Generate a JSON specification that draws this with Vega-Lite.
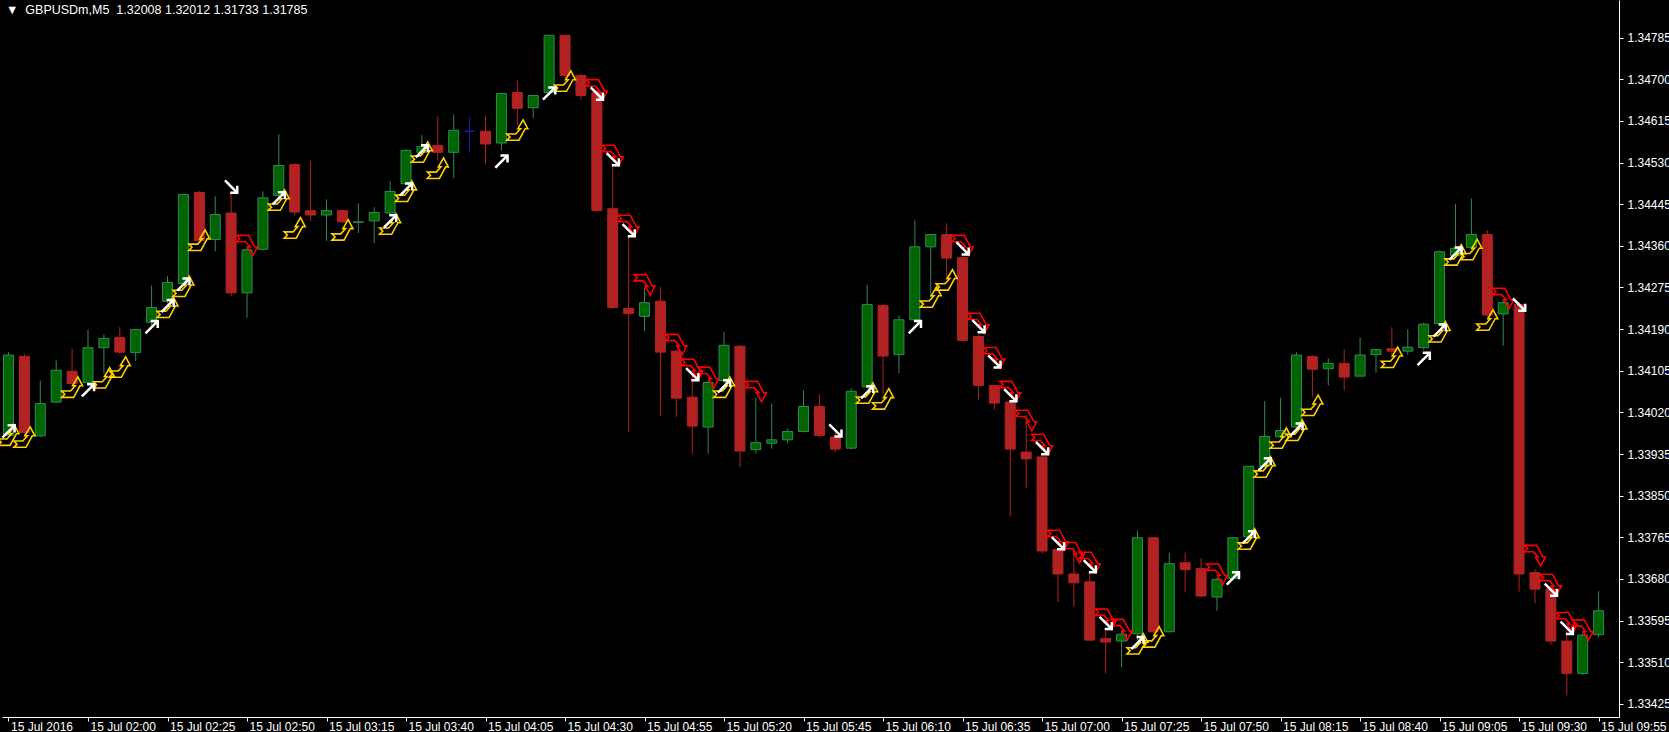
{
  "$schema": "https://vega.github.io/schema/vega-lite/v6.json",
  "width": 1617,
  "height": 717,
  "autosize": "none",
  "padding": {"left": 2, "top": 0, "right": 50, "bottom": 15},
  "background": "black",
  "config": {
    "view": {"stroke": null},
    "axisY": {
      "orient": "right", "grid": false,
      "format": ".5f", "domainColor": "white", "tickColor": "white", "tickSize": 4,
      "labelColor": "white", "labelFont": "Liberation Sans", "labelFontSize": 12, "labelPadding": 4,
      "labelOverlap": false, "labelFlush": false, "title": null
    }
  },
  "title": {
    "text": "▼\u00a0\u00a0GBPUSDm,M5\u00a0\u00a01.32008 1.32012 1.31733 1.31785",
    "anchor": "start", "frame": "group", "offset": -16, "dx": 4,
    "color": "white", "font": "Liberation Sans", "fontSize": 12.5, "fontWeight": "normal"
  },
  "datasets": {
    "candles": [
      {"t":"2016-07-15T01:35:00Z","o":1.33973,"h":1.34143,"l":1.33969,"c":1.34137},
      {"t":"2016-07-15T01:40:00Z","o":1.34134,"h":1.34139,"l":1.33971,"c":1.33979},
      {"t":"2016-07-15T01:45:00Z","o":1.33972,"h":1.34085,"l":1.33969,"c":1.34038},
      {"t":"2016-07-15T01:50:00Z","o":1.34041,"h":1.34126,"l":1.34040,"c":1.34106},
      {"t":"2016-07-15T01:55:00Z","o":1.34104,"h":1.34150,"l":1.34075,"c":1.34079},
      {"t":"2016-07-15T02:00:00Z","o":1.34081,"h":1.34189,"l":1.34079,"c":1.34152},
      {"t":"2016-07-15T02:05:00Z","o":1.34152,"h":1.34179,"l":1.34100,"c":1.34171},
      {"t":"2016-07-15T02:10:00Z","o":1.34173,"h":1.34194,"l":1.34139,"c":1.34143},
      {"t":"2016-07-15T02:15:00Z","o":1.34142,"h":1.34190,"l":1.34125,"c":1.34189},
      {"t":"2016-07-15T02:20:00Z","o":1.34204,"h":1.34279,"l":1.34198,"c":1.34234},
      {"t":"2016-07-15T02:25:00Z","o":1.34247,"h":1.34298,"l":1.34243,"c":1.34285},
      {"t":"2016-07-15T02:30:00Z","o":1.34283,"h":1.34465,"l":1.34279,"c":1.34465},
      {"t":"2016-07-15T02:35:00Z","o":1.34469,"h":1.34472,"l":1.34367,"c":1.34371},
      {"t":"2016-07-15T02:40:00Z","o":1.34373,"h":1.34461,"l":1.34349,"c":1.34424},
      {"t":"2016-07-15T02:45:00Z","o":1.34427,"h":1.34470,"l":1.34257,"c":1.34264},
      {"t":"2016-07-15T02:50:00Z","o":1.34264,"h":1.34357,"l":1.34213,"c":1.34352},
      {"t":"2016-07-15T02:55:00Z","o":1.34353,"h":1.34471,"l":1.34351,"c":1.34458},
      {"t":"2016-07-15T03:00:00Z","o":1.34463,"h":1.34588,"l":1.34459,"c":1.34524},
      {"t":"2016-07-15T03:05:00Z","o":1.34526,"h":1.34529,"l":1.34422,"c":1.34429},
      {"t":"2016-07-15T03:10:00Z","o":1.34432,"h":1.34534,"l":1.34411,"c":1.34423},
      {"t":"2016-07-15T03:15:00Z","o":1.34423,"h":1.34455,"l":1.34370,"c":1.34432},
      {"t":"2016-07-15T03:20:00Z","o":1.34432,"h":1.34434,"l":1.34406,"c":1.34409},
      {"t":"2016-07-15T03:25:00Z","o":1.34408,"h":1.34447,"l":1.34386,"c":1.34409},
      {"t":"2016-07-15T03:30:00Z","o":1.34411,"h":1.34439,"l":1.34366,"c":1.34428},
      {"t":"2016-07-15T03:35:00Z","o":1.34427,"h":1.34492,"l":1.34422,"c":1.34471},
      {"t":"2016-07-15T03:40:00Z","o":1.34487,"h":1.34557,"l":1.34483,"c":1.34555},
      {"t":"2016-07-15T03:45:00Z","o":1.34551,"h":1.34586,"l":1.34545,"c":1.34563},
      {"t":"2016-07-15T03:50:00Z","o":1.34565,"h":1.34624,"l":1.34534,"c":1.34551},
      {"t":"2016-07-15T03:55:00Z","o":1.34551,"h":1.34628,"l":1.34498,"c":1.34596},
      {"t":"2016-07-15T04:00:00Z","o":1.34594,"h":1.34624,"l":1.34551,"c":1.34594},
      {"t":"2016-07-15T04:05:00Z","o":1.34594,"h":1.34626,"l":1.34526,"c":1.34568},
      {"t":"2016-07-15T04:10:00Z","o":1.34570,"h":1.34671,"l":1.34555,"c":1.34671},
      {"t":"2016-07-15T04:15:00Z","o":1.34673,"h":1.34698,"l":1.34606,"c":1.34641},
      {"t":"2016-07-15T04:20:00Z","o":1.34642,"h":1.34667,"l":1.34621,"c":1.34667},
      {"t":"2016-07-15T04:25:00Z","o":1.34673,"h":1.34790,"l":1.34667,"c":1.34790},
      {"t":"2016-07-15T04:30:00Z","o":1.34790,"h":1.34790,"l":1.34702,"c":1.34708},
      {"t":"2016-07-15T04:35:00Z","o":1.34708,"h":1.34710,"l":1.34659,"c":1.34667},
      {"t":"2016-07-15T04:40:00Z","o":1.34673,"h":1.34677,"l":1.34430,"c":1.34432},
      {"t":"2016-07-15T04:45:00Z","o":1.34436,"h":1.34524,"l":1.34231,"c":1.34234},
      {"t":"2016-07-15T04:50:00Z","o":1.34232,"h":1.34378,"l":1.33980,"c":1.34222},
      {"t":"2016-07-15T04:55:00Z","o":1.34216,"h":1.34275,"l":1.34186,"c":1.34244},
      {"t":"2016-07-15T05:00:00Z","o":1.34247,"h":1.34276,"l":1.34013,"c":1.34143},
      {"t":"2016-07-15T05:05:00Z","o":1.34145,"h":1.34147,"l":1.34011,"c":1.34049},
      {"t":"2016-07-15T05:10:00Z","o":1.34051,"h":1.34096,"l":1.33936,"c":1.33992},
      {"t":"2016-07-15T05:15:00Z","o":1.33990,"h":1.34085,"l":1.33936,"c":1.34081},
      {"t":"2016-07-15T05:20:00Z","o":1.34085,"h":1.34184,"l":1.34081,"c":1.34157},
      {"t":"2016-07-15T05:25:00Z","o":1.34155,"h":1.34157,"l":1.33908,"c":1.33941},
      {"t":"2016-07-15T05:30:00Z","o":1.33944,"h":1.34051,"l":1.33936,"c":1.33958},
      {"t":"2016-07-15T05:35:00Z","o":1.33957,"h":1.34038,"l":1.33946,"c":1.33964},
      {"t":"2016-07-15T05:40:00Z","o":1.33964,"h":1.33987,"l":1.33957,"c":1.33981},
      {"t":"2016-07-15T05:45:00Z","o":1.33981,"h":1.34065,"l":1.33979,"c":1.34032},
      {"t":"2016-07-15T05:50:00Z","o":1.34032,"h":1.34057,"l":1.33969,"c":1.33973},
      {"t":"2016-07-15T05:55:00Z","o":1.33970,"h":1.33979,"l":1.33939,"c":1.33945},
      {"t":"2016-07-15T06:00:00Z","o":1.33947,"h":1.34069,"l":1.33944,"c":1.34063},
      {"t":"2016-07-15T06:05:00Z","o":1.34072,"h":1.34281,"l":1.34069,"c":1.34240},
      {"t":"2016-07-15T06:10:00Z","o":1.34238,"h":1.34241,"l":1.34058,"c":1.34135},
      {"t":"2016-07-15T06:15:00Z","o":1.34138,"h":1.34218,"l":1.34100,"c":1.34209},
      {"t":"2016-07-15T06:20:00Z","o":1.34209,"h":1.34412,"l":1.34208,"c":1.34358},
      {"t":"2016-07-15T06:25:00Z","o":1.34358,"h":1.34383,"l":1.34255,"c":1.34383},
      {"t":"2016-07-15T06:30:00Z","o":1.34383,"h":1.34406,"l":1.34290,"c":1.34335},
      {"t":"2016-07-15T06:35:00Z","o":1.34336,"h":1.34338,"l":1.34165,"c":1.34167},
      {"t":"2016-07-15T06:40:00Z","o":1.34175,"h":1.34177,"l":1.34045,"c":1.34075},
      {"t":"2016-07-15T06:45:00Z","o":1.34075,"h":1.34077,"l":1.34026,"c":1.34039},
      {"t":"2016-07-15T06:50:00Z","o":1.34041,"h":1.34045,"l":1.33808,"c":1.33945},
      {"t":"2016-07-15T06:55:00Z","o":1.33939,"h":1.34014,"l":1.33866,"c":1.33925},
      {"t":"2016-07-15T07:00:00Z","o":1.33929,"h":1.33932,"l":1.33732,"c":1.33737},
      {"t":"2016-07-15T07:05:00Z","o":1.33740,"h":1.33743,"l":1.33633,"c":1.33690},
      {"t":"2016-07-15T07:10:00Z","o":1.33690,"h":1.33745,"l":1.33623,"c":1.33672},
      {"t":"2016-07-15T07:15:00Z","o":1.33674,"h":1.33694,"l":1.33553,"c":1.33555},
      {"t":"2016-07-15T07:20:00Z","o":1.33558,"h":1.33575,"l":1.33487,"c":1.33551},
      {"t":"2016-07-15T07:25:00Z","o":1.33553,"h":1.33575,"l":1.33500,"c":1.33567},
      {"t":"2016-07-15T07:30:00Z","o":1.33568,"h":1.33779,"l":1.33555,"c":1.33764},
      {"t":"2016-07-15T07:35:00Z","o":1.33764,"h":1.33765,"l":1.33569,"c":1.33572},
      {"t":"2016-07-15T07:40:00Z","o":1.33572,"h":1.33733,"l":1.33571,"c":1.33711},
      {"t":"2016-07-15T07:45:00Z","o":1.33713,"h":1.33734,"l":1.33653,"c":1.33699},
      {"t":"2016-07-15T07:50:00Z","o":1.33701,"h":1.33722,"l":1.33643,"c":1.33645},
      {"t":"2016-07-15T07:55:00Z","o":1.33643,"h":1.33683,"l":1.33615,"c":1.33679},
      {"t":"2016-07-15T08:00:00Z","o":1.33681,"h":1.33765,"l":1.33679,"c":1.33764},
      {"t":"2016-07-15T08:05:00Z","o":1.33766,"h":1.33910,"l":1.33765,"c":1.33910},
      {"t":"2016-07-15T08:10:00Z","o":1.33910,"h":1.34043,"l":1.33908,"c":1.33971},
      {"t":"2016-07-15T08:15:00Z","o":1.33970,"h":1.34050,"l":1.33969,"c":1.33983},
      {"t":"2016-07-15T08:20:00Z","o":1.33990,"h":1.34143,"l":1.33983,"c":1.34137},
      {"t":"2016-07-15T08:25:00Z","o":1.34134,"h":1.34137,"l":1.34051,"c":1.34108},
      {"t":"2016-07-15T08:30:00Z","o":1.34109,"h":1.34130,"l":1.34075,"c":1.34120},
      {"t":"2016-07-15T08:35:00Z","o":1.34120,"h":1.34149,"l":1.34065,"c":1.34092},
      {"t":"2016-07-15T08:40:00Z","o":1.34094,"h":1.34173,"l":1.34094,"c":1.34137},
      {"t":"2016-07-15T08:45:00Z","o":1.34138,"h":1.34149,"l":1.34101,"c":1.34148},
      {"t":"2016-07-15T08:50:00Z","o":1.34150,"h":1.34194,"l":1.34135,"c":1.34145},
      {"t":"2016-07-15T08:55:00Z","o":1.34145,"h":1.34190,"l":1.34138,"c":1.34153},
      {"t":"2016-07-15T09:00:00Z","o":1.34152,"h":1.34203,"l":1.34148,"c":1.34200},
      {"t":"2016-07-15T09:05:00Z","o":1.34201,"h":1.34350,"l":1.34198,"c":1.34348},
      {"t":"2016-07-15T09:10:00Z","o":1.34340,"h":1.34445,"l":1.34335,"c":1.34355},
      {"t":"2016-07-15T09:15:00Z","o":1.34357,"h":1.34457,"l":1.34350,"c":1.34383},
      {"t":"2016-07-15T09:20:00Z","o":1.34383,"h":1.34392,"l":1.34215,"c":1.34219},
      {"t":"2016-07-15T09:25:00Z","o":1.34221,"h":1.34250,"l":1.34156,"c":1.34244},
      {"t":"2016-07-15T09:30:00Z","o":1.34240,"h":1.34245,"l":1.33654,"c":1.33690},
      {"t":"2016-07-15T09:35:00Z","o":1.33693,"h":1.33700,"l":1.33630,"c":1.33659},
      {"t":"2016-07-15T09:40:00Z","o":1.33659,"h":1.33665,"l":1.33546,"c":1.33553},
      {"t":"2016-07-15T09:45:00Z","o":1.33553,"h":1.33575,"l":1.33442,"c":1.33487},
      {"t":"2016-07-15T09:50:00Z","o":1.33487,"h":1.33570,"l":1.33484,"c":1.33565},
      {"t":"2016-07-15T09:55:00Z","o":1.33566,"h":1.33655,"l":1.33560,"c":1.33615}
    ],
    "arrows": [
      {"t":"2016-07-15T01:35:00Z","p":1.33981,"s":"wu"},
      {"t":"2016-07-15T02:00:00Z","p":1.34065,"s":"wu"},
      {"t":"2016-07-15T02:20:00Z","p":1.34194,"s":"wu"},
      {"t":"2016-07-15T02:25:00Z","p":1.34237,"s":"wu"},
      {"t":"2016-07-15T02:30:00Z","p":1.34281,"s":"wu"},
      {"t":"2016-07-15T03:00:00Z","p":1.34457,"s":"wu"},
      {"t":"2016-07-15T03:35:00Z","p":1.34410,"s":"wu"},
      {"t":"2016-07-15T03:40:00Z","p":1.34475,"s":"wu"},
      {"t":"2016-07-15T03:45:00Z","p":1.34553,"s":"wu"},
      {"t":"2016-07-15T04:10:00Z","p":1.34532,"s":"wu"},
      {"t":"2016-07-15T04:25:00Z","p":1.34671,"s":"wu"},
      {"t":"2016-07-15T05:20:00Z","p":1.34073,"s":"wu"},
      {"t":"2016-07-15T06:05:00Z","p":1.34061,"s":"wu"},
      {"t":"2016-07-15T06:20:00Z","p":1.34194,"s":"wu"},
      {"t":"2016-07-15T07:30:00Z","p":1.33549,"s":"wu"},
      {"t":"2016-07-15T08:00:00Z","p":1.33681,"s":"wu"},
      {"t":"2016-07-15T08:05:00Z","p":1.33765,"s":"wu"},
      {"t":"2016-07-15T08:10:00Z","p":1.33914,"s":"wu"},
      {"t":"2016-07-15T08:20:00Z","p":1.33985,"s":"wu"},
      {"t":"2016-07-15T09:00:00Z","p":1.34129,"s":"wu"},
      {"t":"2016-07-15T09:05:00Z","p":1.34187,"s":"wu"},
      {"t":"2016-07-15T09:10:00Z","p":1.34344,"s":"wu"},
      {"t":"2016-07-15T02:45:00Z","p":1.34481,"s":"wd"},
      {"t":"2016-07-15T04:40:00Z","p":1.34671,"s":"wd"},
      {"t":"2016-07-15T04:45:00Z","p":1.34537,"s":"wd"},
      {"t":"2016-07-15T04:50:00Z","p":1.34392,"s":"wd"},
      {"t":"2016-07-15T05:10:00Z","p":1.34098,"s":"wd"},
      {"t":"2016-07-15T05:55:00Z","p":1.33983,"s":"wd"},
      {"t":"2016-07-15T06:35:00Z","p":1.34355,"s":"wd"},
      {"t":"2016-07-15T06:40:00Z","p":1.34196,"s":"wd"},
      {"t":"2016-07-15T06:45:00Z","p":1.34124,"s":"wd"},
      {"t":"2016-07-15T06:50:00Z","p":1.34055,"s":"wd"},
      {"t":"2016-07-15T07:00:00Z","p":1.33947,"s":"wd"},
      {"t":"2016-07-15T07:05:00Z","p":1.33753,"s":"wd"},
      {"t":"2016-07-15T07:15:00Z","p":1.33706,"s":"wd"},
      {"t":"2016-07-15T07:20:00Z","p":1.33590,"s":"wd"},
      {"t":"2016-07-15T09:30:00Z","p":1.34240,"s":"wd"},
      {"t":"2016-07-15T09:40:00Z","p":1.33658,"s":"wd"},
      {"t":"2016-07-15T09:45:00Z","p":1.33580,"s":"wd"},
      {"t":"2016-07-15T01:35:00Z","p":1.33973,"s":"yu"},
      {"t":"2016-07-15T01:40:00Z","p":1.33969,"s":"yu"},
      {"t":"2016-07-15T01:55:00Z","p":1.34071,"s":"yu"},
      {"t":"2016-07-15T02:05:00Z","p":1.34090,"s":"yu"},
      {"t":"2016-07-15T02:10:00Z","p":1.34112,"s":"yu"},
      {"t":"2016-07-15T02:25:00Z","p":1.34234,"s":"yu"},
      {"t":"2016-07-15T02:30:00Z","p":1.34277,"s":"yu"},
      {"t":"2016-07-15T02:35:00Z","p":1.34371,"s":"yu"},
      {"t":"2016-07-15T03:00:00Z","p":1.34453,"s":"yu"},
      {"t":"2016-07-15T03:05:00Z","p":1.34396,"s":"yu"},
      {"t":"2016-07-15T03:20:00Z","p":1.34392,"s":"yu"},
      {"t":"2016-07-15T03:35:00Z","p":1.34404,"s":"yu"},
      {"t":"2016-07-15T03:40:00Z","p":1.34471,"s":"yu"},
      {"t":"2016-07-15T03:45:00Z","p":1.34551,"s":"yu"},
      {"t":"2016-07-15T03:50:00Z","p":1.34518,"s":"yu"},
      {"t":"2016-07-15T04:15:00Z","p":1.34596,"s":"yu"},
      {"t":"2016-07-15T04:30:00Z","p":1.34696,"s":"yu"},
      {"t":"2016-07-15T05:20:00Z","p":1.34071,"s":"yu"},
      {"t":"2016-07-15T06:05:00Z","p":1.34059,"s":"yu"},
      {"t":"2016-07-15T06:10:00Z","p":1.34047,"s":"yu"},
      {"t":"2016-07-15T06:25:00Z","p":1.34255,"s":"yu"},
      {"t":"2016-07-15T06:30:00Z","p":1.34290,"s":"yu"},
      {"t":"2016-07-15T07:30:00Z","p":1.33547,"s":"yu"},
      {"t":"2016-07-15T07:35:00Z","p":1.33561,"s":"yu"},
      {"t":"2016-07-15T08:05:00Z","p":1.33761,"s":"yu"},
      {"t":"2016-07-15T08:10:00Z","p":1.33908,"s":"yu"},
      {"t":"2016-07-15T08:15:00Z","p":1.33967,"s":"yu"},
      {"t":"2016-07-15T08:20:00Z","p":1.33983,"s":"yu"},
      {"t":"2016-07-15T08:25:00Z","p":1.34034,"s":"yu"},
      {"t":"2016-07-15T08:50:00Z","p":1.34132,"s":"yu"},
      {"t":"2016-07-15T09:05:00Z","p":1.34184,"s":"yu"},
      {"t":"2016-07-15T09:10:00Z","p":1.34341,"s":"yu"},
      {"t":"2016-07-15T09:15:00Z","p":1.34352,"s":"yu"},
      {"t":"2016-07-15T09:20:00Z","p":1.34208,"s":"yu"},
      {"t":"2016-07-15T02:50:00Z","p":1.34361,"s":"rd"},
      {"t":"2016-07-15T04:40:00Z","p":1.34679,"s":"rd"},
      {"t":"2016-07-15T04:45:00Z","p":1.34545,"s":"rd"},
      {"t":"2016-07-15T04:50:00Z","p":1.34402,"s":"rd"},
      {"t":"2016-07-15T04:55:00Z","p":1.34281,"s":"rd"},
      {"t":"2016-07-15T05:05:00Z","p":1.34159,"s":"rd"},
      {"t":"2016-07-15T05:10:00Z","p":1.34108,"s":"rd"},
      {"t":"2016-07-15T05:15:00Z","p":1.34092,"s":"rd"},
      {"t":"2016-07-15T05:30:00Z","p":1.34063,"s":"rd"},
      {"t":"2016-07-15T06:35:00Z","p":1.34361,"s":"rd"},
      {"t":"2016-07-15T06:40:00Z","p":1.34202,"s":"rd"},
      {"t":"2016-07-15T06:45:00Z","p":1.34132,"s":"rd"},
      {"t":"2016-07-15T06:50:00Z","p":1.34063,"s":"rd"},
      {"t":"2016-07-15T06:55:00Z","p":1.34004,"s":"rd"},
      {"t":"2016-07-15T07:00:00Z","p":1.33955,"s":"rd"},
      {"t":"2016-07-15T07:05:00Z","p":1.33759,"s":"rd"},
      {"t":"2016-07-15T07:10:00Z","p":1.33734,"s":"rd"},
      {"t":"2016-07-15T07:15:00Z","p":1.33714,"s":"rd"},
      {"t":"2016-07-15T07:20:00Z","p":1.33598,"s":"rd"},
      {"t":"2016-07-15T07:25:00Z","p":1.33577,"s":"rd"},
      {"t":"2016-07-15T07:55:00Z","p":1.33690,"s":"rd"},
      {"t":"2016-07-15T09:25:00Z","p":1.34253,"s":"rd"},
      {"t":"2016-07-15T09:35:00Z","p":1.33728,"s":"rd"},
      {"t":"2016-07-15T09:40:00Z","p":1.33669,"s":"rd"},
      {"t":"2016-07-15T09:45:00Z","p":1.33591,"s":"rd"},
      {"t":"2016-07-15T09:50:00Z","p":1.33576,"s":"rd"}
    ]
  },
  "encoding": {
    "x": {
      "field": "t", "type": "temporal", "title": null,
      "scale": {
        "type": "utc",
        "domain": [
          {"year": 2016, "month": 7, "date": 15, "hours": 1, "minutes": 34, "seconds": 31, "milliseconds": 875, "utc": true},
          {"year": 2016, "month": 7, "date": 15, "hours": 9, "minutes": 59, "seconds": 50, "milliseconds": 625, "utc": true}
        ]
      },
      "axis": {
        "values": [
          {"year": 2016, "month": 7, "date": 15, "hours": 1, "minutes": 35, "utc": true},
          {"year": 2016, "month": 7, "date": 15, "hours": 2, "minutes": 0, "utc": true},
          {"year": 2016, "month": 7, "date": 15, "hours": 2, "minutes": 25, "utc": true},
          {"year": 2016, "month": 7, "date": 15, "hours": 2, "minutes": 50, "utc": true},
          {"year": 2016, "month": 7, "date": 15, "hours": 3, "minutes": 15, "utc": true},
          {"year": 2016, "month": 7, "date": 15, "hours": 3, "minutes": 40, "utc": true},
          {"year": 2016, "month": 7, "date": 15, "hours": 4, "minutes": 5, "utc": true},
          {"year": 2016, "month": 7, "date": 15, "hours": 4, "minutes": 30, "utc": true},
          {"year": 2016, "month": 7, "date": 15, "hours": 4, "minutes": 55, "utc": true},
          {"year": 2016, "month": 7, "date": 15, "hours": 5, "minutes": 20, "utc": true},
          {"year": 2016, "month": 7, "date": 15, "hours": 5, "minutes": 45, "utc": true},
          {"year": 2016, "month": 7, "date": 15, "hours": 6, "minutes": 10, "utc": true},
          {"year": 2016, "month": 7, "date": 15, "hours": 6, "minutes": 35, "utc": true},
          {"year": 2016, "month": 7, "date": 15, "hours": 7, "minutes": 0, "utc": true},
          {"year": 2016, "month": 7, "date": 15, "hours": 7, "minutes": 25, "utc": true},
          {"year": 2016, "month": 7, "date": 15, "hours": 7, "minutes": 50, "utc": true},
          {"year": 2016, "month": 7, "date": 15, "hours": 8, "minutes": 15, "utc": true},
          {"year": 2016, "month": 7, "date": 15, "hours": 8, "minutes": 40, "utc": true},
          {"year": 2016, "month": 7, "date": 15, "hours": 9, "minutes": 5, "utc": true},
          {"year": 2016, "month": 7, "date": 15, "hours": 9, "minutes": 30, "utc": true},
          {"year": 2016, "month": 7, "date": 15, "hours": 9, "minutes": 55, "utc": true}
        ],
        "labelExpr": "utcFormat(datum.value, '%H:%M') == '01:35' ? '15 Jul 2016' : utcFormat(datum.value, '%d %b %H:%M')",
        "grid": false, "domainColor": "white", "tickColor": "white", "tickSize": 4,
        "labelColor": "white", "labelFont": "Liberation Sans", "labelFontSize": 12,
        "labelAlign": "left", "labelBaseline": "top", "labelPadding": 0, "labelOffset": 2,
        "labelFlush": false, "labelOverlap": false, "labelBound": false
      }
    }
  },
  "layer": [
    {
      "data": {"name": "candles"},
      "mark": {"type": "rule", "strokeWidth": 1},
      "encoding": {
        "y": {"field": "l", "type": "quantitative", "title": null, "scale": {"domain": [1.33398, 1.34862], "nice": false, "zero": false},
          "axis": {"values": [1.34785, 1.347, 1.34615, 1.3453, 1.34445, 1.3436, 1.34275, 1.3419, 1.34105, 1.3402, 1.33935, 1.3385, 1.33765, 1.3368, 1.33595, 1.3351, 1.33425]}},
        "y2": {"field": "h"},
        "stroke": {
          "condition": [
            {"test": "datum.c == datum.o", "value": "#1c1cb0"},
            {"test": "datum.c > datum.o", "value": "#2E8B57"}
          ],
          "value": "#B22222"
        }
      }
    },
    {
      "data": {"name": "candles"},
      "mark": {"type": "bar", "width": 10, "strokeWidth": 1},
      "encoding": {
        "y": {"field": "o", "type": "quantitative", "title": null, "scale": {"domain": [1.33398, 1.34862], "nice": false, "zero": false},
          "axis": {"values": [1.34785, 1.347, 1.34615, 1.3453, 1.34445, 1.3436, 1.34275, 1.3419, 1.34105, 1.3402, 1.33935, 1.3385, 1.33765, 1.3368, 1.33595, 1.3351, 1.33425]}},
        "y2": {"field": "c"},
        "fill": {
          "condition": [
            {"test": "datum.c == datum.o", "value": "#1c1cb0"},
            {"test": "datum.c > datum.o", "value": "#006400"}
          ],
          "value": "#B22222"
        },
        "stroke": {
          "condition": [
            {"test": "datum.c == datum.o", "value": "#1c1cb0"},
            {"test": "datum.c > datum.o", "value": "#2E8B57"}
          ],
          "value": "#B22222"
        }
      }
    },
    {
      "data": {"name": "arrows"},
      "transform": [{"filter": "datum.s == 'yu'"}],
      "mark": {"type": "point", "filled": false, "stroke": "#FFD000", "strokeWidth": 1.6, "size": 440, "opacity": 1,
        "shape": "M -1 0.35 L -0.15 0.35 L 0.3 -0.15 L 0.05 -0.15 L 0.55 -1 L 1 -0.15 L 0.75 -0.15 L 0.15 0.95 L -1 0.95 L -0.7 0.65 Z"},
      "encoding": {
        "y": {"field": "p", "type": "quantitative", "title": null, "scale": {"domain": [1.33398, 1.34862], "nice": false, "zero": false},
          "axis": {"values": [1.34785, 1.347, 1.34615, 1.3453, 1.34445, 1.3436, 1.34275, 1.3419, 1.34105, 1.3402, 1.33935, 1.3385, 1.33765, 1.3368, 1.33595, 1.3351, 1.33425]}}
      }
    },
    {
      "data": {"name": "arrows"},
      "transform": [{"filter": "datum.s == 'rd'"}],
      "mark": {"type": "point", "filled": false, "stroke": "#FF0000", "strokeWidth": 1.6, "size": 440, "opacity": 1,
        "shape": "M -1 -0.35 L -0.15 -0.35 L 0.3 0.15 L 0.05 0.15 L 0.55 1 L 1 0.15 L 0.75 0.15 L 0.15 -0.95 L -1 -0.95 L -0.7 -0.65 Z"},
      "encoding": {
        "y": {"field": "p", "type": "quantitative", "title": null, "scale": {"domain": [1.33398, 1.34862], "nice": false, "zero": false},
          "axis": {"values": [1.34785, 1.347, 1.34615, 1.3453, 1.34445, 1.3436, 1.34275, 1.3419, 1.34105, 1.3402, 1.33935, 1.3385, 1.33765, 1.3368, 1.33595, 1.3351, 1.33425]}}
      }
    },
    {
      "data": {"name": "arrows"},
      "transform": [{"filter": "datum.s == 'wu'"}],
      "mark": {"type": "point", "filled": false, "stroke": "white", "strokeWidth": 2.5, "size": 150, "opacity": 1,
        "shape": "M -1 1 L 0.85 -0.85 M -0.15 -1 L 1 -1 L 1 0.15"},
      "encoding": {
        "y": {"field": "p", "type": "quantitative", "title": null, "scale": {"domain": [1.33398, 1.34862], "nice": false, "zero": false},
          "axis": {"values": [1.34785, 1.347, 1.34615, 1.3453, 1.34445, 1.3436, 1.34275, 1.3419, 1.34105, 1.3402, 1.33935, 1.3385, 1.33765, 1.3368, 1.33595, 1.3351, 1.33425]}}
      }
    },
    {
      "data": {"name": "arrows"},
      "transform": [{"filter": "datum.s == 'wd'"}],
      "mark": {"type": "point", "filled": false, "stroke": "white", "strokeWidth": 2.5, "size": 150, "opacity": 1,
        "shape": "M -1 -1 L 0.85 0.85 M 1 -0.15 L 1 1 L -0.15 1"},
      "encoding": {
        "y": {"field": "p", "type": "quantitative", "title": null, "scale": {"domain": [1.33398, 1.34862], "nice": false, "zero": false},
          "axis": {"values": [1.34785, 1.347, 1.34615, 1.3453, 1.34445, 1.3436, 1.34275, 1.3419, 1.34105, 1.3402, 1.33935, 1.3385, 1.33765, 1.3368, 1.33595, 1.3351, 1.33425]}}
      }
    },
    {
      "data": {"values": [{}]},
      "mark": {"type": "rule", "color": "white", "strokeWidth": 1},
      "encoding": {
        "x": {"datum": {"year": 2016, "month": 7, "date": 15, "hours": 1, "minutes": 34, "seconds": 31, "milliseconds": 875, "utc": true}, "type": "temporal"}
      }
    }
  ]
}
